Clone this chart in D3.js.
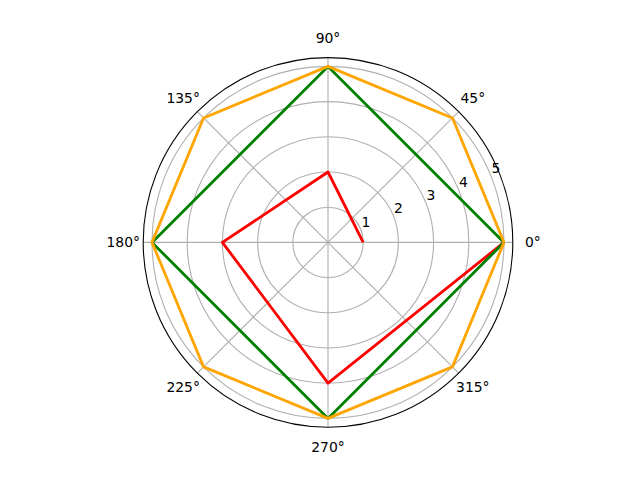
<!DOCTYPE html>
<html>
<head>
<meta charset="utf-8">
<script src="https://cdn.jsdelivr.net/npm/d3@7"></script>
<style>
  body { margin: 0; background: #fff; }
  text { font-family: "DejaVu Sans", sans-serif; font-size: 13.9px; fill: #000; }
</style>
</head>
<body>
<div id="chart"></div>
<script>
// series data (theta in degrees, r values)
const redTheta = [0, 90, 180, 270, 360];
const redR = [1, 2, 3, 4, 5];
const greenTheta = [0, 90, 180, 270, 360];
const greenR = [5, 5, 5, 5, 5];
const orangeTheta = [0, 45, 90, 135, 180, 225, 270, 315, 360];
const orangeR = [5, 5, 5, 5, 5, 5, 5, 5, 5];

const rTicks = [1, 2, 3, 4, 5];
const thetaTicks = [0, 45, 90, 135, 180, 225, 270, 315];

const w = 640, h = 480;
const cx = 328, cy = 242.4, R = 184.8;

const svg = d3.select("#chart").append("svg")
  .attr("width", w)
  .attr("height", h);

const r = d3.scaleLinear().domain([0, 5.25]).range([0, R]);
const rad = d => d * Math.PI / 180;
const px = (t, v) => cx + r(v) * Math.cos(rad(t));
const py = (t, v) => cy - r(v) * Math.sin(rad(t));

// grid
const grid = svg.append("g").attr("fill", "none").attr("stroke", "#b0b0b0").attr("stroke-width", 1.1);
rTicks.forEach(v => {
  grid.append("circle").attr("cx", cx).attr("cy", cy).attr("r", r(v));
});
thetaTicks.forEach(t => {
  grid.append("line")
    .attr("x1", cx).attr("y1", cy)
    .attr("x2", px(t, 5.25)).attr("y2", py(t, 5.25));
});

// radial tick labels along 22.5 deg
rTicks.forEach(v => {
  svg.append("text")
    .attr("x", px(22.5, v) + 1)
    .attr("y", py(22.5, v) - 2)
    .attr("text-anchor", "start")
    .text(v);
});

// series
const series = [
  { theta: redTheta, r: redR, color: "red" },
  { theta: greenTheta, r: greenR, color: "green" },
  { theta: orangeTheta, r: orangeR, color: "orange" }
];
const line = d3.line()
  .x(d => px(d[0], d[1]))
  .y(d => py(d[0], d[1]));

series.forEach(s => {
  svg.append("path")
    .datum(s.theta.map((t, i) => [t, s.r[i]]))
    .attr("fill", "none")
    .attr("stroke", s.color)
    .attr("stroke-width", 2.8)
    .attr("stroke-linejoin", "round")
    .attr("d", line);
});

// outer frame
svg.append("circle")
  .attr("cx", cx).attr("cy", cy).attr("r", R)
  .attr("fill", "none").attr("stroke", "#000").attr("stroke-width", 1.1);

// angle labels
const labR = R + 20;
thetaTicks.forEach(t => {
  svg.append("text")
    .attr("x", cx + labR * Math.cos(rad(t)))
    .attr("y", cy - labR * Math.sin(rad(t)))
    .attr("text-anchor", "middle")
    .attr("dominant-baseline", "central")
    .text(t + "°");
});
</script>
</body>
</html>
